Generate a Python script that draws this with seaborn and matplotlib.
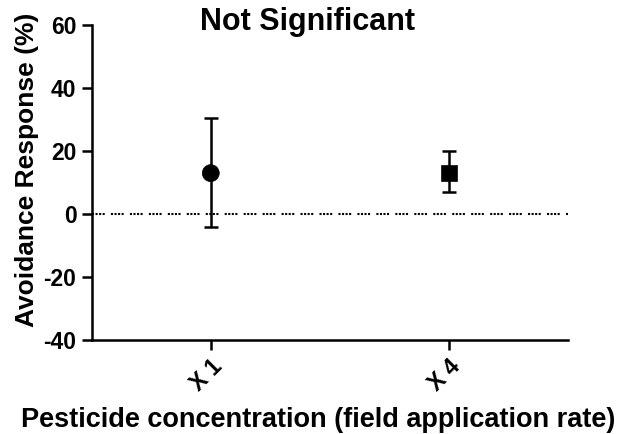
import matplotlib
matplotlib.use("Agg")
import matplotlib.pyplot as plt
import seaborn as sns
import pandas as pd

categories = ["X 1", "X 4"]
means = [13.0, 13.0]
err_low = [17.0, 6.0]
err_high = [17.5, 7.0]
markers = ["o", "s"]

sns.set_style("ticks")
plt.rcParams['font.family'] = ['Liberation Sans', 'DejaVu Sans']
plt.rcParams['font.weight'] = 'bold'
plt.rcParams['axes.unicode_minus'] = False
plt.rcParams['text.color'] = 'black'
plt.rcParams['axes.labelcolor'] = 'black'
plt.rcParams['xtick.color'] = 'black'
plt.rcParams['ytick.color'] = 'black'
plt.rcParams['axes.edgecolor'] = 'black'

df = pd.DataFrame({"cat": categories, "mean": means})

fig = plt.figure(figsize=(6.24, 4.34), dpi=100)
ax = fig.add_axes([0.147, 0.2166, 0.763, 0.7254])

ax.axhline(0, color="black", lw=1.5, linestyle=(0, (1, 0.7, 1, 0.7, 1, 0.7, 1, 3)), zorder=1)

pos = list(range(len(categories)))
ax.errorbar(pos, means, yerr=[err_low, err_high], fmt="none", ecolor="black",
            elinewidth=1.8, capsize=5, capthick=1.8, zorder=2)
sns.scatterplot(data=df, x="cat", y="mean", style="cat", markers=dict(zip(categories, markers)),
                color="black", ax=ax, legend=False, zorder=3)
ax.collections[-1].set_sizes([150, 130])
ax.collections[-1].set_edgecolor("black")

ax.set_xlim(-0.5, 1.5)
ax.set_ylim(-40, 60)
ax.set_yticks([-40, -20, 0, 20, 40, 60])
ax.set_xticks(pos)
ax.set_xticklabels(categories, rotation=45, ha="right", rotation_mode="anchor")

for s in ["top", "right"]:
    ax.spines[s].set_visible(False)
for s in ["left", "bottom"]:
    ax.spines[s].set_linewidth(1.8)
ax.tick_params(axis="both", width=1.8, length=7, labelsize=16.5, pad=4)
for lab in ax.get_xticklabels() + ax.get_yticklabels():
    lab.set_fontweight("bold")

fig.text(308 / 624, 1 - 22 / 434, "Not Significant", fontsize=22, fontweight="bold",
         ha="center", va="center")
ax.set_ylabel("Avoidance Response (%)", fontsize=19, fontweight="bold")
ax.set_xlabel("Pesticide concentration (field application rate)", fontsize=19.5, fontweight="bold")
ax.yaxis.set_label_coords(-0.136, 0.54)
ax.xaxis.set_label_coords(0.476, -0.254)
ax.xaxis.label.set_va("center")
ax.yaxis.label.set_va("center")

fig.savefig("out.png", dpi=100)
